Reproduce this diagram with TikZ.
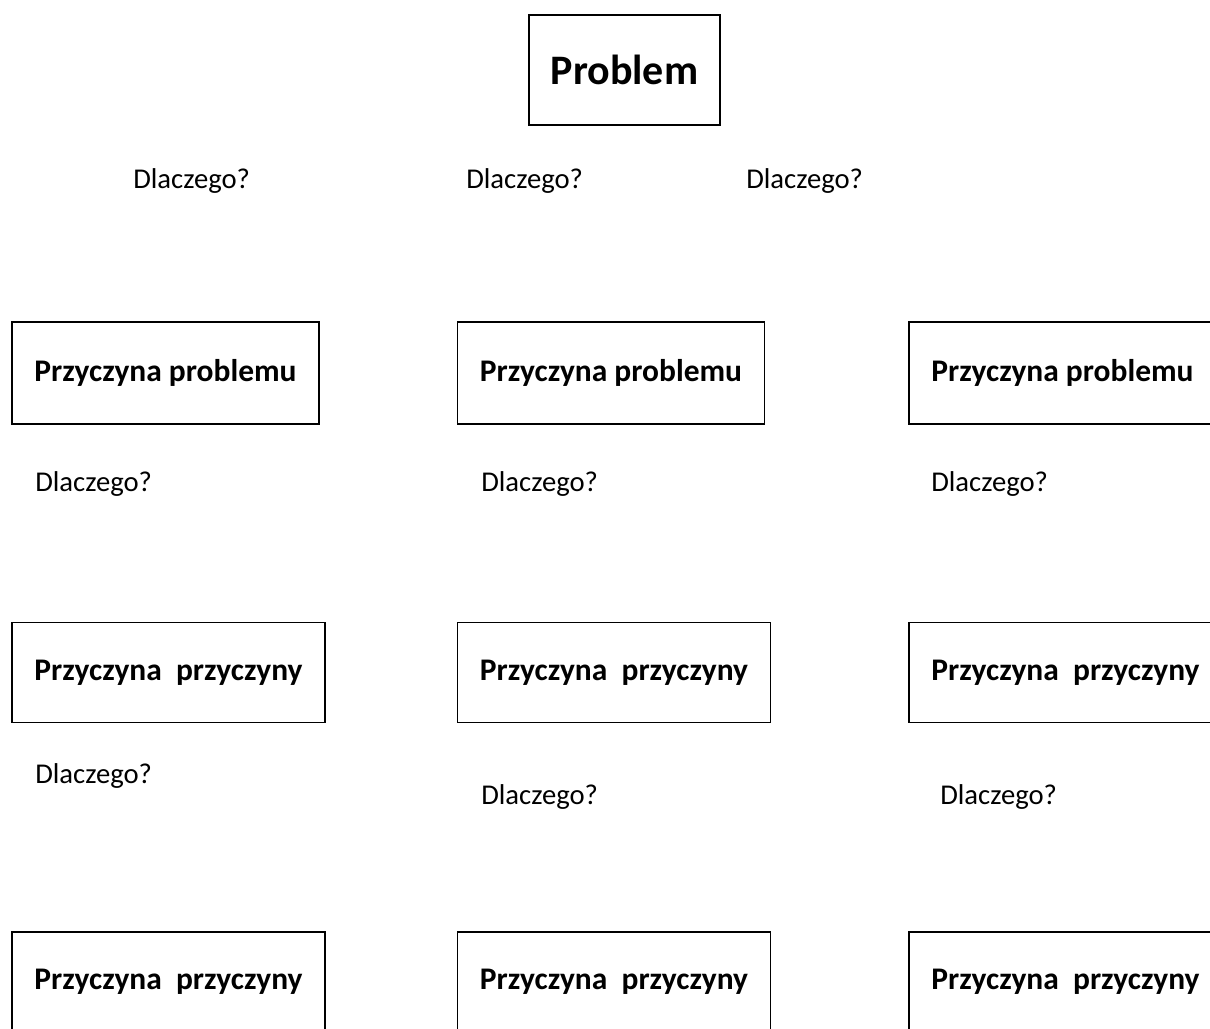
\documentclass[tikz,border=0pt]{standalone}
\usepackage{fontspec}
\setmainfont{Carlito}
\usetikzlibrary{positioning}

\begin{document}
\begin{tikzpicture}[x=0.75pt, y=-0.75pt, font=\fontsize{21.5}{26}\selectfont]
	\tikzstyle{box} = [draw=black, rectangle, line width=1.1pt, align=center, font=\fontsize{23.6}{28}\selectfont\bfseries]
	\tikzstyle{wide} = [box, minimum width=230.25pt, minimum height=76.5pt]
	\tikzstyle{wider} = [box, minimum width=234.75pt, minimum height=75pt]
	\tikzstyle{invis} = [draw=none, anchor=west, inner sep=0pt]

	\useasboundingbox (0, 0) rectangle (1210, 1028);
	\clip (0, 0) rectangle (1210, 1028);

	% problem
	\node[box, minimum width=143.25pt, minimum height=82.5pt, font=\fontsize{31.5}{36}\selectfont\bfseries]
							at (624.5, 70)		(p0)	{Problem};
	\node[invis]			at (133, 181)		(w01)	{Dlaczego?};
	\node[invis]			at (466, 181)		(w02)	{Dlaczego?};
	\node[invis]			at (746, 181)		(w03)	{Dlaczego?};

	% causes
	\node[wide]				at (165.5, 373)		(c1)	{Przyczyna problemu};
	\node[wide]				at (611, 373)		(c2)	{Przyczyna problemu};
	\node[wide]				at (1062.5, 373)	(c3)	{Przyczyna problemu};
	\node[invis]			at (35, 484)		(w11)	{Dlaczego?};
	\node[invis]			at (481, 484)		(w12)	{Dlaczego?};
	\node[invis]			at (931, 484)		(w13)	{Dlaczego?};

	% causes of causes
	\node[wider]			at (168.5, 672.5)	(r1)	{Przyczyna\ \ przyczyny};
	\node[wider]			at (614, 672.5)		(r2)	{Przyczyna\ \ przyczyny};
	\node[wider]			at (1065.5, 672.5)	(r3)	{Przyczyna\ \ przyczyny};
	\node[invis]			at (35, 776)		(w21)	{Dlaczego?};
	\node[invis]			at (481, 797)		(w22)	{Dlaczego?};
	\node[invis]			at (940, 797)		(w23)	{Dlaczego?};

	\node[wider]			at (168.5, 982)		(s1)	{Przyczyna\ \ przyczyny};
	\node[wider]			at (614, 982)		(s2)	{Przyczyna\ \ przyczyny};
	\node[wider]			at (1065.5, 982)	(s3)	{Przyczyna\ \ przyczyny};
\end{tikzpicture}
\end{document}
